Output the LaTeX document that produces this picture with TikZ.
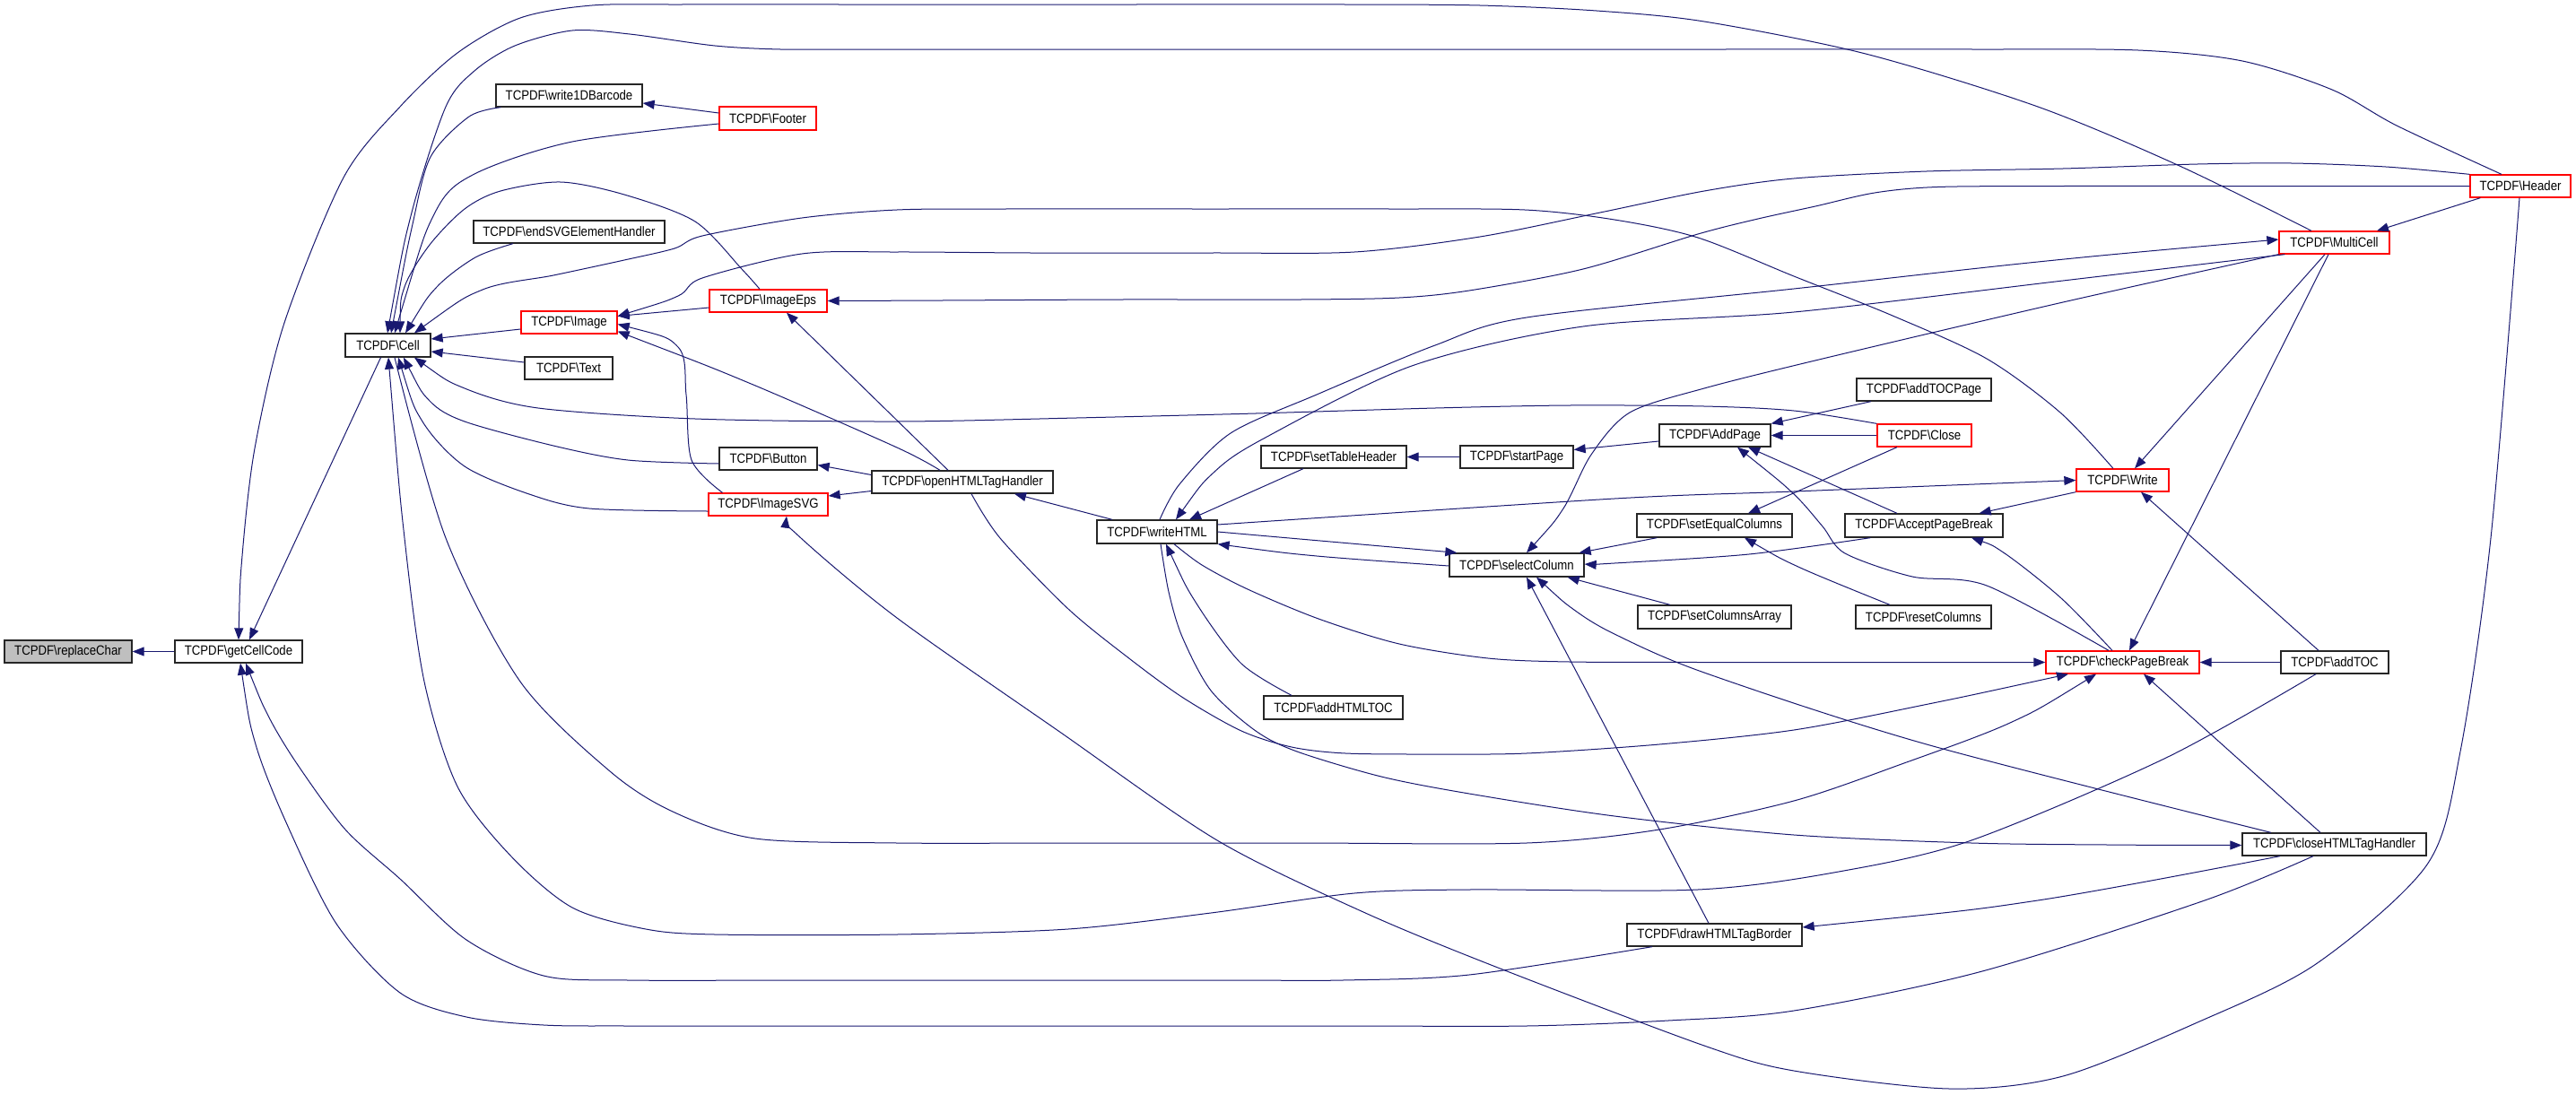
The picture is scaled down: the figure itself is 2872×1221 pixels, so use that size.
\documentclass[tikz,border=0pt]{standalone}
\usepackage{fontspec}
\setmainfont{Liberation Sans}[FakeStretch=0.88]
\usetikzlibrary{arrows.meta,calc}
\definecolor{edgeblue}{HTML}{191970}
\definecolor{boxred}{HTML}{FF0000}
\definecolor{grayfill}{HTML}{BFBFBF}
\newcommand\tcnode[7]{\node[#7, minimum width={(#4-#2)*0.5pt}, minimum height={(#5-#3)*0.5pt}] (#1) at ({(#2+#4)/2},{(#3+#5)/2}) {TCPDF\textbackslash #6};}
\begin{document}
\begin{tikzpicture}[x=0.5pt,y=-0.5pt,
  box/.style={draw=black!85, line width=0.65pt, fill=white, inner sep=0pt, rectangle, font=\fontsize{7.5}{9}\selectfont},
  redbox/.style={box, draw=boxred},
  graybox/.style={box, fill=grayfill},
  cl/.style={draw=edgeblue, line width=0.5pt, {Triangle[length=6.5pt,width=5pt]}-},
  sm/.style={smooth, tension=0.5}
]
\useasboundingbox (0,0) rectangle (2872,1221);
% nodes
\tcnode{replaceChar}{5}{714}{147}{739}{replaceChar}{graybox}
\tcnode{getCellCode}{195}{714}{337}{739}{getCellCode}{box}
\tcnode{Cell}{385}{372}{480}{398}{Cell}{box}
\tcnode{write1DBarcode}{553}{94}{716}{119}{write1DBarcode}{box}
\tcnode{Footer}{802}{119}{910}{145}{Footer}{redbox}
\tcnode{endSVGElementHandler}{528}{246}{741}{271}{endSVGElementHandler}{box}
\tcnode{Image}{581}{347}{688}{372}{Image}{redbox}
\tcnode{ImageEps}{791}{323}{922}{348}{ImageEps}{redbox}
\tcnode{Text}{585}{398}{683}{423}{Text}{box}
\tcnode{Button}{802}{499}{911}{524}{Button}{box}
\tcnode{ImageSVG}{790}{550}{923}{575}{ImageSVG}{redbox}
\tcnode{openHTMLTagHandler}{972}{525}{1174}{550}{openHTMLTagHandler}{box}
\tcnode{writeHTML}{1223}{580}{1357}{606}{writeHTML}{box}
\tcnode{setTableHeader}{1406}{497}{1568}{522}{setTableHeader}{box}
\tcnode{startPage}{1628}{497}{1754}{522}{startPage}{box}
\tcnode{addHTMLTOC}{1409}{776}{1564}{802}{addHTMLTOC}{box}
\tcnode{selectColumn}{1616}{617}{1766}{643}{selectColumn}{box}
\tcnode{drawHTMLTagBorder}{1814}{1030}{2009}{1055}{drawHTMLTagBorder}{box}
\tcnode{AddPage}{1850}{473}{1974}{498}{AddPage}{box}
\tcnode{setEqualColumns}{1825}{573}{1998}{599}{setEqualColumns}{box}
\tcnode{setColumnsArray}{1826}{675}{1997}{701}{setColumnsArray}{box}
\tcnode{addTOCPage}{2070}{422}{2220}{447}{addTOCPage}{box}
\tcnode{Close}{2093}{473}{2198}{498}{Close}{redbox}
\tcnode{AcceptPageBreak}{2057}{573}{2233}{599}{AcceptPageBreak}{box}
\tcnode{resetColumns}{2069}{675}{2220}{701}{resetColumns}{box}
\tcnode{Write}{2315}{523}{2418}{548}{Write}{redbox}
\tcnode{checkPageBreak}{2281}{726}{2452}{751}{checkPageBreak}{redbox}
\tcnode{MultiCell}{2541}{258}{2664}{283}{MultiCell}{redbox}
\tcnode{Header}{2754}{195}{2866}{220}{Header}{redbox}
\tcnode{addTOC}{2543}{726}{2663}{751}{addTOC}{box}
\tcnode{closeHTMLTagHandler}{2500}{929}{2705}{954}{closeHTMLTagHandler}{box}
% edges (arrow at callee = start)
\draw[cl] (replaceChar.east) -- (getCellCode.west);
\draw[cl] ($(getCellCode.north)+(12,0)$) -- ($(Cell.south)+(-8,0)$);
\draw[cl] plot[sm] coordinates {(getCellCode.north) (270,620) (284,500) (317,360) (383,198) (446,119) (510,59) (580,20) (660,6) (760,5) (950,5) (1250,5) (1500,5) (1650,6) (1780,12) (1900,24) (2080,60) (2272,119) (2430,185) ($(MultiCell.north)+(-25.5,0)$)};
\draw[cl] plot[sm] coordinates {($(Cell.north)+(-0.5,0)$) (459,237) (497,119) (529,79) (574,51) (638,34) (702,38) (797,51) (870,55) (960,55) (1150,55) (1500,55) (1900,55) (2200,55) (2384,56) (2500,68) (2600,100) (2672,140) ($(Header.north)+(-21,0)$)};
\draw[cl] plot[sm] coordinates {($(Cell.north)+(3.5,0)$) (460,250) (480,175) (523,130) ($(write1DBarcode.south west)+(6,0)$)};
\draw[cl] plot[sm] coordinates {($(Cell.north)+(7.5,0)$) (485,237) (529,194) (638,158) ($(Footer.west)+(0,6)$)};
\draw[cl] ($(write1DBarcode.east)+(0,8.5)$) -- ($(Footer.west)+(0,-6)$);
\draw[cl] plot[sm] coordinates {($(Cell.north)+(13.5,0)$) (451,320) (479,273) (518,233) (558,213) (625,203) (696,217) (775,247) (827,300) ($(ImageEps.north)+(-9.5,0)$)};
\draw[cl] plot[sm] coordinates {($(Cell.north)+(19.5,0)$) (487,320) (530,287) ($(endSVGElementHandler.south)+(-62.5,0)$)};
\draw[cl] plot[sm] coordinates {($(Cell.north)+(29.5,0)$) (538,323) (617,307) (696,290) (752,277) (783,263) (894,243) (1000,234) (1120,233) (1350,233) (1550,233) (1700,234) (1800,245) (1893,265) (2000,308) (2110,352) (2215,400) (2297,460) ($(Write.north)+(-10.5,0)$)};
\draw[cl] ($(Cell.east)+(0,-7)$) -- ($(Image.west)+(0,7.5)$);
\draw[cl] ($(Cell.east)+(0,7)$) -- ($(Text.west)+(0,-6.5)$);
\draw[cl] ($(Image.east)+(0,-7)$) -- ($(ImageEps.west)+(0,7.5)$);
\draw[cl] plot[sm] coordinates {($(Image.east)+(0,-7)$) (756,330) (783,310) (894,283) (1000,281) (1150,282) (1350,282) (1510,281) (1650,264) (1784,237) (1900,213) (2000,199) (2148,191) (2300,188) (2450,183) (2555,182) (2660,186) (Header.north west)};
\draw[cl] plot[sm] coordinates {(ImageEps.east) (1050,335) (1250,334) (1450,334) (1560,332) (1638,324) (1765,300) (1893,261) (1960,244) (2024,230) (2090,215) (2160,208.5) (2300,207.5) (2500,207.5) (Header.west)};
\draw[cl] plot[sm] coordinates {($(Image.east)+(0,2)$) (756,387) (765,440) (771,513) ($(ImageSVG.north)+(-51,0)$)};
\draw[cl] plot[sm] coordinates {($(Image.east)+(0,10)$) (835,427) (1000,499) ($(openHTMLTagHandler.north)+(-25,0)$)};
\draw[cl] ($(ImageEps.south)+(20.5,0)$) -- ($(openHTMLTagHandler.north)+(-16,0)$);
\draw[cl] ($(Button.east)+(0,7)$) -- ($(openHTMLTagHandler.west)+(0,-8)$);
\draw[cl] ($(ImageSVG.east)+(0,-9.5)$) -- ($(openHTMLTagHandler.west)+(0,10)$);
\draw[cl] plot[sm] coordinates {($(Cell.south)+(17.5,0)$) (479,447) (518,470) (617,497) (700,513) ($(Button.west)+(0,5.5)$)};
\draw[cl] plot[sm] coordinates {($(Cell.south)+(11.5,0)$) (471,470) (518,520) (590,551) (657,567) ($(ImageSVG.west)+(0,7.5)$)};
\draw[cl] plot[sm] coordinates {($(Cell.south)+(29.5,0)$) (518,433) (600,455) (775,467) (1000,470) (1200,466) (1400,461) (1600,455) (1750,452) (1900,453) (2000,458) (Close.north west)};
\draw[cl] plot[sm] coordinates {($(Cell.south)+(0.5,0)$) (451,600) (473,760) (510,877) (570,955) (638,1012) (720,1036) (797,1042) (1000,1042) (1191,1036) (1350,1018) (1510,996) (1638,992) (1893,992) (2050,972) (2198,937) (2415,845) ($(addTOC.south)+(-21,0)$)};
\draw[cl] plot[sm] coordinates {($(checkPageBreak.south)+(-29.5,0)$) (2241,806) (2120,852) (2000,893) (1850,925) (1702,940) (1450,940) (1200,940) (1000,940) (842,935) (750,905) (680,860) (580,760) (497,600) ($(Cell.south)+(7.5,0)$)};
\draw[cl] plot[sm] coordinates {($(getCellCode.south)+(8,0)$) (300,800) (332,853) (385,925) (446,980) (520,1048) (606,1088) (700,1093) (900,1093) (1200,1093) (1380,1093) (1497,1093) (1638,1087) ($(drawHTMLTagBorder.south)+(-69.5,0)$)};
\draw[cl] plot[sm] coordinates {($(getCellCode.south)+(2,0)$) (285,830) (319,917) (375,1030) (446,1107) (520,1134) (606,1143) (700,1144) (900,1144) (1200,1144) (1500,1144) (1702,1144) (1860,1138) (2000,1127) (2210,1083) (2458,1004) ($(closeHTMLTagHandler.south)+(-23.5,0)$)};
\draw[cl] plot[sm] coordinates {($(ImageSVG.south)+(20.5,0)$) (893,600) (1000,689) (1180,815) (1357,937) (1520,1017) (1670,1079) (1900,1166) (2000,1194) (2173,1214) (2300,1200) (2450,1140) (2582,1075) (2706,964) (2743,838) (2777,600) ($(Header.south)+(-1,0)$)};
\draw[cl] ($(openHTMLTagHandler.south)+(58,0)$) -- ($(writeHTML.north)+(-50,0)$);
\draw[cl] plot[sm] coordinates {($(checkPageBreak.south)+(-60.5,0)$) (2150,785) (2000,814) (1850,830) (1702,840) (1600,841) (1500,840) (1440,833) (1384,815) (1319,778) (1260,735) (1191,679) (1115,600) ($(openHTMLTagHandler.south)+(10,0)$)};
\draw[cl] ($(writeHTML.north)+(36,0)$) -- ($(setTableHeader.south)+(-34,0)$);
\draw[cl] (setTableHeader.east) -- (startPage.west);
\draw[cl] ($(startPage.east)+(0,-8)$) -- ($(AddPage.west)+(0,6.5)$);
\draw[cl] (AddPage.north east) -- ($(addTOCPage.south)+(-59,0)$);
\draw[cl] (AddPage.east) -- (Close.west);
\draw[cl] ($(AddPage.south)+(37,0)$) -- ($(AcceptPageBreak.north)+(-30,0)$);
\draw[cl] plot[sm] coordinates {($(AddPage.south)+(25,0)$) (1999,550) (2032,587) (2057,617) (2132,643) (2215,653) ($(checkPageBreak.north)+(-15.5,0)$)};
\draw[cl] ($(setEqualColumns.north)+(37.5,0)$) -- ($(Close.south)+(-30.5,0)$);
\draw[cl] plot[sm] coordinates {($(setEqualColumns.south)+(33.5,0)$) (2007,633) ($(resetColumns.north)+(-37.5,0)$)};
\draw[cl] ($(selectColumn.north west)+(9,0)$) -- (writeHTML.east);
\draw[cl] plot[sm] coordinates {(writeHTML.south east) (1468,620) ($(selectColumn.west)+(0,1)$)};
\draw[cl] ($(selectColumn.north east)+(-6,0)$) -- ($(setEqualColumns.south west)+(23,0)$);
\draw[cl] plot[sm] coordinates {($(selectColumn.east)+(0,-1)$) (1800,628) (1950,618) ($(AcceptPageBreak.south west)+(29,0)$)};
\draw[cl] ($(selectColumn.south east)+(-19,0)$) -- ($(setColumnsArray.north)+(-49.5,0)$);
\draw[cl] plot[sm] coordinates {($(selectColumn.south)+(22,0)$) (1755,680) (1800,707) (1900,750) (2148,830) ($(closeHTMLTagHandler.north)+(-70.5,0)$)};
\draw[cl] ($(selectColumn.south)+(11,0)$) -- ($(drawHTMLTagBorder.north)+(-6.5,0)$);
\draw[cl] plot[sm] coordinates {($(selectColumn.north)+(11,0)$) (1743,567) (1774,507) (1817,460) (1900,433) (2032,400) (2300,337) (MultiCell.south west)};
\draw[cl] plot[sm] coordinates {($(writeHTML.south)+(10,0)$) (1334,673) (1384,740) ($(addHTMLTOC.north)+(-46.5,0)$)};
\draw[cl] plot[sm] coordinates {($(closeHTMLTagHandler.west)+(0,1)$) (2350,942) (2198,940) (2000,931) (1800,910) (1638,885) (1540,866) (1446,838) (1400,815) (1350,770) (1318,710) (1303,660) ($(writeHTML.south)+(4,0)$)};
\draw[cl] plot[sm] coordinates {(checkPageBreak.west) (2100,738.5) (1900,738.5) (1750,738) (1659,734) (1560,718) (1470,690) (1391,657) (1340,630) ($(writeHTML.south)+(19,0)$)};
\draw[cl] plot[sm] coordinates {(Write.west) (2000,548) (1800,556) ($(writeHTML.east)+(0,-8)$)};
\draw[cl] plot[sm] coordinates {($(MultiCell.west)+(0,-3.5)$) (2272,292) (2000,322) (1702,354) (1600,385) (1468,440) (1372,483) (1315,540) ($(writeHTML.north)+(3,0)$)};
\draw[cl] plot[sm] coordinates {($(writeHTML.north)+(21,0)$) (1353,527) (1407,490) (1574,408) (1765,364) (2000,348) (2300,313) ($(MultiCell.south west)+(7,0)$)};
\draw[cl] ($(Write.north)+(13.5,0)$) -- ($(MultiCell.south)+(-10.5,0)$);
\draw[cl] ($(checkPageBreak.north)+(7.5,0)$) -- ($(MultiCell.south)+(-6.5,0)$);
\draw[cl] ($(MultiCell.north)+(47.5,0)$) -- ($(Header.south west)+(12,0)$);
\draw[cl] ($(Write.south)+(20.5,0)$) -- ($(addTOC.north)+(-18,0)$);
\draw[cl] (checkPageBreak.east) -- (addTOC.west);
\draw[cl] ($(AcceptPageBreak.north east)+(-27,0)$) -- (Write.south west);
\draw[cl] plot[sm] coordinates {($(AcceptPageBreak.south)+(53,0)$) (2235,617) (2298,667) ($(checkPageBreak.north)+(-11.5,0)$)};
\draw[cl] ($(checkPageBreak.south)+(23.5,0)$) -- ($(closeHTMLTagHandler.north)+(-15.5,0)$);
\draw[cl] plot[sm] coordinates {($(drawHTMLTagBorder.east)+(0,-8.5)$) (2272,1004) ($(closeHTMLTagHandler.south)+(-60.5,0)$)};
\end{tikzpicture}
\end{document}
